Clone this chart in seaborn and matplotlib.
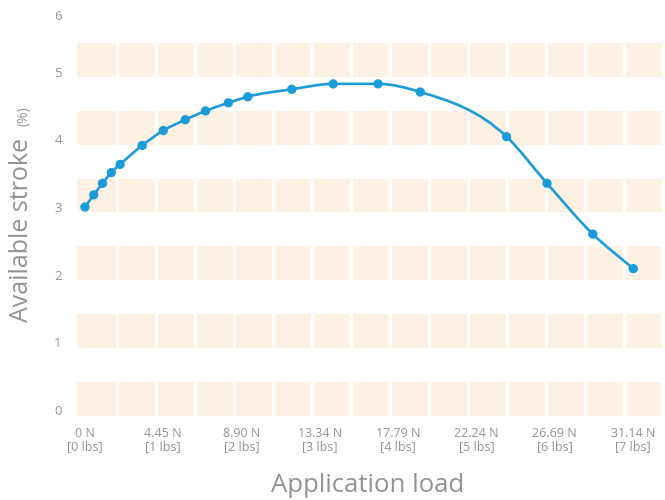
import numpy as np
import pandas as pd
import matplotlib
matplotlib.use('Agg')
import matplotlib.pyplot as plt
import seaborn as sns
from matplotlib.path import Path
from matplotlib.patches import PathPatch
from matplotlib.transforms import ScaledTranslation

# values
load_n = [0, 0.5, 1.0, 1.5, 2.0, 3.25, 4.45, 5.7, 6.85, 8.15, 9.25,
          11.75, 14.1, 16.65, 19.05, 23.95, 26.25, 28.85, 31.15]
stroke = [3.00, 3.18, 3.35, 3.51, 3.63, 3.91, 4.13, 4.29, 4.42, 4.54, 4.63,
          4.74, 4.82, 4.82, 4.70, 4.04, 3.35, 2.60, 2.09]

tick_n = [0, 4.45, 8.90, 13.34, 17.79, 22.24, 26.69, 31.14]
tick_labels = ['0 N\n[0 lbs]', '4.45 N\n[1 lbs]', '8.90 N\n[2 lbs]', '13.34 N\n[3 lbs]',
               '17.79 N\n[4 lbs]', '22.24 N\n[5 lbs]', '26.69 N\n[6 lbs]', '31.14 N\n[7 lbs]']
y_ticks = [0, 1, 2, 3, 4, 5, 6]

df = pd.DataFrame({'load': load_n, 'stroke': stroke})

sns.set_theme(style='white')
plt.rcParams['font.family'] = ['Open Sans', 'DejaVu Sans']

blue = '#1b9bd8'
band = '#fdf1e4'
grey = '#939393'

fig = plt.figure(figsize=(6.65, 5), dpi=100)
ax = fig.add_axes([77 / 665, 0.169, 1 - 77 / 665, 0.992 - 0.169])

# background bands with white column gaps
for n in range(6):
    ax.axhspan(n - 0.08, n + 0.42, color=band, lw=0, zorder=0)
for gx in np.arange(1.82, 33, 2.214):
    ax.axvline(gx, color='white', lw=2.4, zorder=0.5)

# smooth monotone curve through the points (cubic Bezier segments)
x = np.array(load_n, dtype=float)
y = np.array(stroke, dtype=float)
h = np.diff(x)
d = np.diff(y) / h
m = np.zeros_like(x)
m[0], m[-1] = d[0], d[-1]
for i in range(1, len(x) - 1):
    if d[i - 1] * d[i] <= 0:
        m[i] = 0
    else:
        m[i] = (h[i - 1] * d[i] + h[i] * d[i - 1]) / (h[i - 1] + h[i])
verts = [(x[0], y[0])]
codes = [Path.MOVETO]
for i in range(len(x) - 1):
    verts += [(x[i] + h[i] / 3, y[i] + m[i] * h[i] / 3),
              (x[i + 1] - h[i] / 3, y[i + 1] - m[i + 1] * h[i] / 3),
              (x[i + 1], y[i + 1])]
    codes += [Path.CURVE4] * 3
ax.add_patch(PathPatch(Path(verts, codes), facecolor='none', edgecolor=blue,
                       lw=1.9, zorder=2, capstyle='round'))

sns.scatterplot(data=df, x='load', y='stroke', ax=ax, color=blue, s=45,
                edgecolor='none', zorder=3, legend=False)

ax.set_xlim(-0.45, 32.95)
ax.set_ylim(-0.08, 6)
ax.set_xticks(tick_n)
ax.set_xticklabels(tick_labels, fontsize=9, color=grey, linespacing=1.05)
ax.set_yticks(y_ticks)
ax.set_yticklabels([str(v) for v in y_ticks], fontsize=9.5, color=grey)
ax.tick_params(axis='x', length=0, pad=8)
ax.tick_params(axis='y', length=0, pad=11)
for lab in ax.get_yticklabels():
    if lab.get_text() == '6':
        lab.set_transform(lab.get_transform() + ScaledTranslation(0, -0.11, fig.dpi_scale_trans))
ax.set_xlabel('')
ax.set_ylabel('')
for s in ax.spines.values():
    s.set_visible(False)

fig.text(368 / 665, 1 - 485 / 500, 'Application load', ha='center', va='center',
         fontsize=18.5, color=grey)
fig.text(22 / 665, 1 - 230 / 500, 'Available stroke', ha='center', va='center',
         rotation=90, fontsize=18, color=grey)
fig.text(24 / 665, 1 - 116 / 500, '(%)', ha='center', va='center',
         rotation=90, fontsize=10, color=grey)

fig.savefig('out.png', dpi=100, facecolor='white')
